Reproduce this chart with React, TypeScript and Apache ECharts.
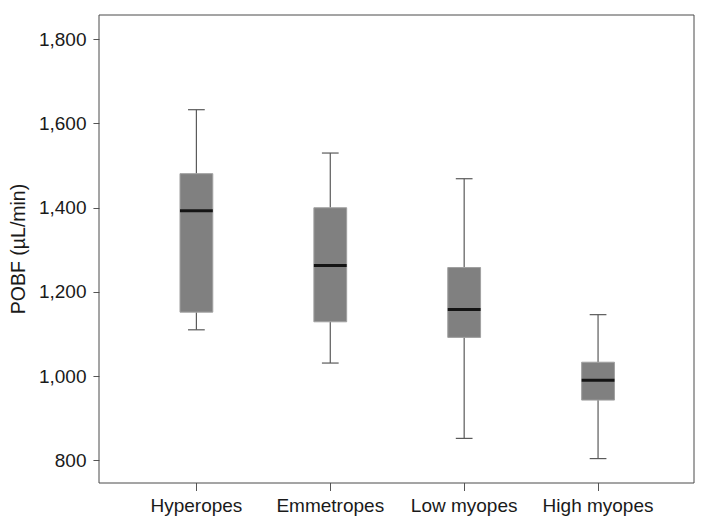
import React, { useEffect, useRef } from "react";
import * as echarts from "echarts";

const categories = ["Hyperopes", "Emmetropes", "Low myopes", "High myopes"];
const mins = [1110, 1031, 852, 804];
const q1s = [1152, 1129, 1092, 943];
const medians = [1393, 1263, 1158, 990];
const q3s = [1481, 1400, 1258, 1033];
const maxs = [1633, 1530, 1469, 1146];
const yTicks = [800, 1000, 1200, 1400, 1600, 1800];

const FONT = "'Liberation Sans', Arial, Helvetica, sans-serif";

export default function App() {
  const ref = useRef<HTMLDivElement>(null);
  useEffect(() => {
    if (!ref.current) return;
    const chart = echarts.init(ref.current, null, { renderer: "svg" });
    const data = categories.map((_, i) => [i, mins[i], q1s[i], medians[i], q3s[i], maxs[i]]);
    chart.setOption({
      animation: false,
      backgroundColor: "#fff",
      textStyle: { fontFamily: FONT },
      grid: [
        { left: 129, right: 42, top: 15, bottom: 40, show: false },
        { left: 99, right: 13, top: 15, bottom: 40, show: true, borderColor: "#4a4a4a", borderWidth: 1, backgroundColor: "transparent", z: 10 },
      ],
      xAxis: [
        {
          type: "category",
          gridIndex: 0,
          data: categories,
          boundaryGap: true,
          axisLine: { show: false },
          axisTick: { show: true, alignWithLabel: true, length: 8, lineStyle: { color: "#555" } },
          axisLabel: { color: "#1a1a1a", fontSize: 19, fontFamily: FONT, margin: 13, interval: 0 },
          splitLine: { show: false },
        },
        { type: "value", gridIndex: 1, show: false },
      ],
      yAxis: [
        {
          type: "value",
          gridIndex: 0,
          min: 746,
          max: 1858,
          offset: 30,
          axisLine: { show: false },
          axisTick: { show: true, length: 6, customValues: yTicks, lineStyle: { color: "#555" } },
          axisLabel: {
            customValues: yTicks,
            color: "#1a1a1a",
            fontSize: 19,
            fontFamily: FONT,
            margin: 13,
            formatter: (v: number) => v.toLocaleString("en-US"),
          },
          splitLine: { show: false },
          name: "POBF (µL/min)",
          nameLocation: "middle",
          nameGap: 67,
          nameTextStyle: { color: "#1a1a1a", fontSize: 19.5, fontFamily: FONT },
        },
        { type: "value", gridIndex: 1, show: false },
      ],
      series: [
        {
          type: "custom",
          xAxisIndex: 0,
          yAxisIndex: 0,
          encode: { x: 0, y: [1, 2, 3, 4, 5] },
          data,
          renderItem: (params: any, api: any) => {
            const idx = api.value(0);
            const band = api.size([1, 0])[0];
            const boxW = band * 0.245;
            const capW = band * 0.125;
            const pMin = api.coord([idx, api.value(1)]);
            const pQ1 = api.coord([idx, api.value(2)]);
            const pMed = api.coord([idx, api.value(3)]);
            const pQ3 = api.coord([idx, api.value(4)]);
            const pMax = api.coord([idx, api.value(5)]);
            const cx = pMed[0];
            const ws = { stroke: "#5a5a5a", lineWidth: 1.2 };
            return {
              type: "group",
              children: [
                { type: "line", shape: { x1: cx, y1: pQ3[1], x2: cx, y2: pMax[1] }, style: ws },
                { type: "line", shape: { x1: cx, y1: pQ1[1], x2: cx, y2: pMin[1] }, style: ws },
                { type: "line", shape: { x1: cx - capW / 2, y1: pMax[1], x2: cx + capW / 2, y2: pMax[1] }, style: ws },
                { type: "line", shape: { x1: cx - capW / 2, y1: pMin[1], x2: cx + capW / 2, y2: pMin[1] }, style: ws },
                {
                  type: "rect",
                  shape: { x: cx - boxW / 2, y: pQ3[1], width: boxW, height: pQ1[1] - pQ3[1] },
                  style: { fill: "#808080", stroke: "#a0a0a0", lineWidth: 1 },
                },
                {
                  type: "line",
                  shape: { x1: cx - boxW / 2, y1: pMed[1], x2: cx + boxW / 2, y2: pMed[1] },
                  style: { stroke: "#141414", lineWidth: 3 },
                },
              ],
            };
          },
        },
      ],
    });
    return () => chart.dispose();
  }, []);
  return <div ref={ref} style={{ width: 707, height: 523, position: "absolute", left: 0, top: 0 }} />;
}
